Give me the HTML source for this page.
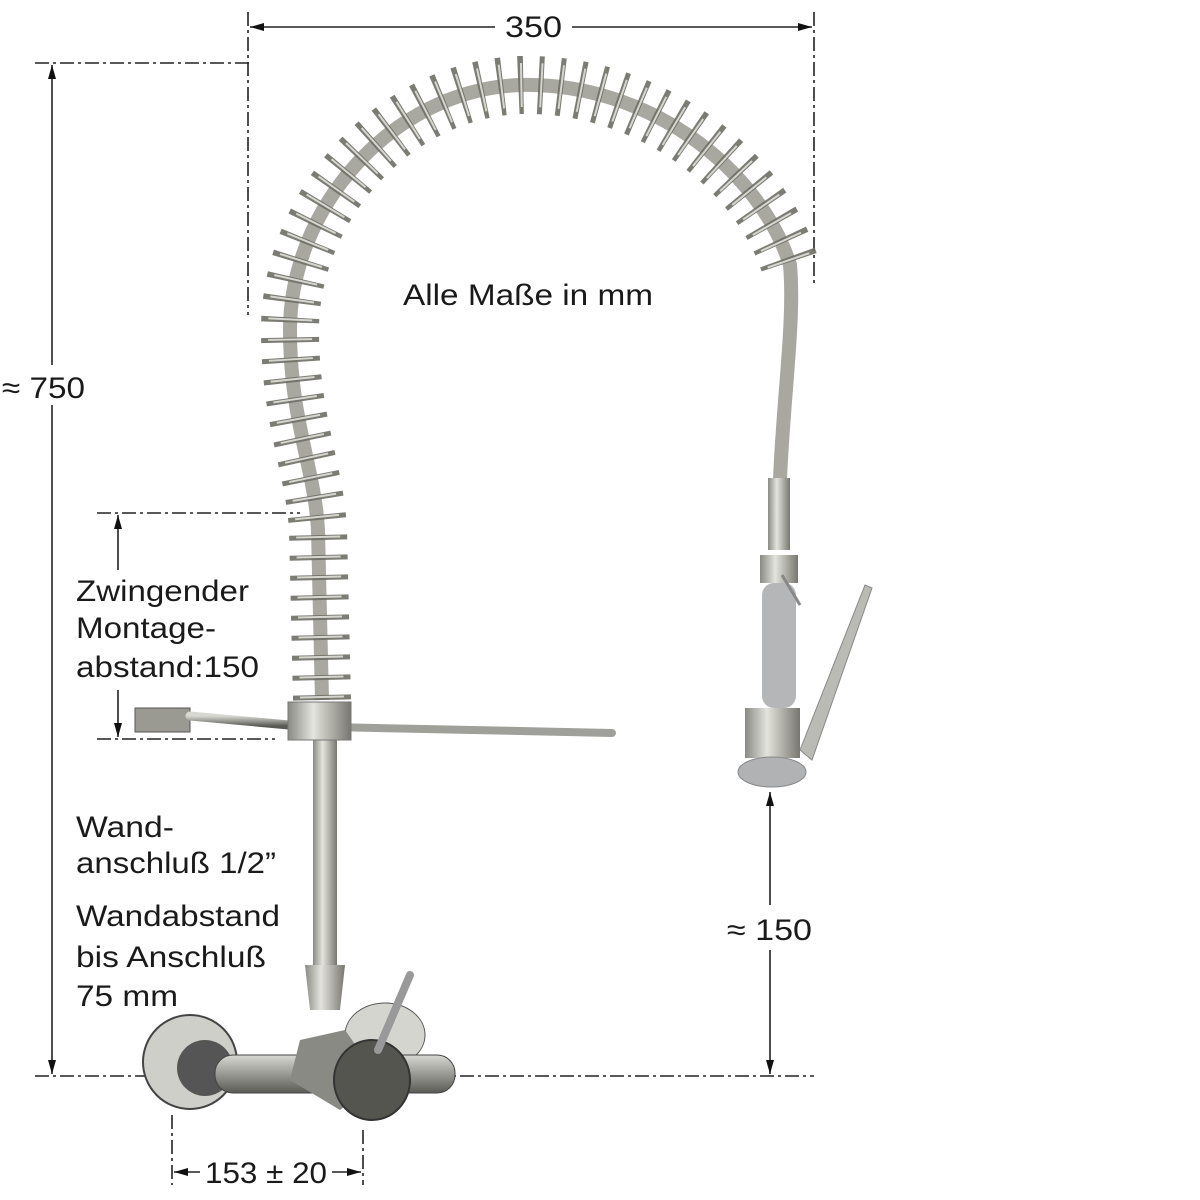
<!DOCTYPE html>
<html><head><meta charset="utf-8"><style>
html,body{margin:0;padding:0;background:#fff}
svg{display:block}
text{font-family:"Liberation Sans",Arial,sans-serif;fill:#1a1a1a}
</style></head><body>
<svg width="1200" height="1200" viewBox="0 0 1200 1200" xmlns="http://www.w3.org/2000/svg">
<defs>
<linearGradient id="steel" x1="0" x2="1" y1="0" y2="0">
<stop offset="0" stop-color="#8a8a84"/><stop offset="0.4" stop-color="#e4e4de"/><stop offset="1" stop-color="#77776f"/>
</linearGradient>
<linearGradient id="steelv" x1="0" x2="0" y1="0" y2="1">
<stop offset="0" stop-color="#d8d8d2"/><stop offset="0.5" stop-color="#9a9a94"/><stop offset="1" stop-color="#5a5a55"/>
</linearGradient>
<marker id="ar" markerWidth="14" markerHeight="8" refX="14" refY="4" orient="auto" markerUnits="userSpaceOnUse">
<path d="M0,0 L14,4 L0,8 Z" fill="#111"/></marker>
</defs>

<g stroke="#222" stroke-width="1.6" fill="none">
<line x1="248" y1="12" x2="248" y2="315" stroke-dasharray="14 4 3 4"/>
<line x1="814" y1="12" x2="814" y2="285" stroke-dasharray="14 4 3 4"/>
<line x1="35" y1="63" x2="252" y2="63" stroke-dasharray="14 4 3 4"/>
<line x1="35" y1="1076" x2="814" y2="1076" stroke-dasharray="14 4 3 4"/>
<line x1="97" y1="513" x2="300" y2="513" stroke-dasharray="14 4 3 4"/>
<line x1="97" y1="739" x2="275" y2="739" stroke-dasharray="14 4 3 4"/>
<line x1="172" y1="1115" x2="172" y2="1185" stroke-dasharray="14 4 3 4"/>
<line x1="363" y1="1130" x2="363" y2="1185" stroke-dasharray="14 4 3 4"/>
<line x1="495" y1="27" x2="250" y2="27" marker-end="url(#ar)"/>
<line x1="572" y1="27" x2="812" y2="27" marker-end="url(#ar)"/>
<line x1="52" y1="365" x2="52" y2="65" marker-end="url(#ar)"/>
<line x1="52" y1="405" x2="52" y2="1074" marker-end="url(#ar)"/>
<line x1="118" y1="570" x2="118" y2="515" marker-end="url(#ar)"/>
<line x1="118" y1="690" x2="118" y2="737" marker-end="url(#ar)"/>
<line x1="770" y1="905" x2="770" y2="792" marker-end="url(#ar)"/>
<line x1="770" y1="950" x2="770" y2="1074" marker-end="url(#ar)"/>
<line x1="200" y1="1172" x2="174" y2="1172" marker-end="url(#ar)"/>
<line x1="332" y1="1172" x2="361" y2="1172" marker-end="url(#ar)"/>
</g>

<path d="M322,700 L318,530 C315,470 290,420 290,330 C290,210 390,90 520,85 C650,82 760,170 790,265 C795,320 783,400 780,480" fill="none" stroke="#a8a8a0" stroke-width="14"/>
<path d="M322,700 L318,530 C315,470 290,420 290,330 C290,210 390,90 520,85 C650,82 760,170 790,265" fill="none" stroke="#6e6e66" stroke-width="58" stroke-dasharray="5 15" stroke-opacity="0.9"/>
<path d="M322,700 L318,530 C315,470 290,420 290,330 C290,210 390,90 520,85 C650,82 760,170 790,265" fill="none" stroke="#d6d6d0" stroke-width="44" stroke-dasharray="2 18" stroke-dashoffset="-2"/>

<rect x="135" y="708" width="55" height="24" fill="#9a9a92" stroke="#555"/>
<line x1="190" y1="716" x2="300" y2="726" stroke="url(#steelv)" stroke-width="9" stroke-linecap="round"/>
<line x1="330" y1="727" x2="612" y2="733" stroke="#a0a09a" stroke-width="8" stroke-linecap="round"/>
<rect x="313" y="735" width="24" height="230" fill="url(#steel)"/>
<rect x="288" y="702" width="63" height="38" fill="url(#steel)" stroke="#777"/>
<path d="M305,965 L345,965 L340,1010 L310,1010 Z" fill="url(#steel)"/>

<ellipse cx="190" cy="1062" rx="47" ry="47" fill="#cfcfca" stroke="#444" stroke-width="2"/>
<ellipse cx="205" cy="1068" rx="28" ry="28" fill="#555"/>
<ellipse cx="385" cy="1035" rx="40" ry="32" fill="#d5d5d0" stroke="#555"/>
<rect x="215" y="1055" width="240" height="38" rx="18" fill="url(#steelv)" stroke="#444"/>
<path d="M300,1040 L345,1030 L380,1080 L340,1110 L290,1080 Z" fill="#8a8a85"/>
<ellipse cx="372" cy="1080" rx="38" ry="40" fill="#55554f" stroke="#333" stroke-width="2"/>
<line x1="410" y1="975" x2="378" y2="1050" stroke="#999" stroke-width="8" stroke-linecap="round"/>

<rect x="768" y="478" width="22" height="72" fill="url(#steel)"/>
<rect x="760" y="555" width="38" height="28" fill="url(#steel)"/>
<rect x="762" y="583" width="34" height="125" rx="12" fill="#b4b6b8"/>
<rect x="745" y="708" width="55" height="50" fill="url(#steel)"/>
<ellipse cx="772" cy="772" rx="34" ry="15" fill="#b0b2b4" stroke="#888"/>
<path d="M800,750 L865,585 L872,588 L812,760 Z" fill="#bbbbb5" stroke="#888"/>
<line x1="782" y1="575" x2="800" y2="605" stroke="#888" stroke-width="3"/>

<g font-size="30" lengthAdjust="spacingAndGlyphs">
<text x="505" y="37" textLength="57" lengthAdjust="spacingAndGlyphs">350</text>
<text x="2" y="398" textLength="83" lengthAdjust="spacingAndGlyphs">≈ 750</text>
<text x="403" y="305" textLength="250" lengthAdjust="spacingAndGlyphs">Alle Maße in mm</text>
<text x="76" y="601" textLength="173" lengthAdjust="spacingAndGlyphs">Zwingender</text>
<text x="76" y="638" textLength="140" lengthAdjust="spacingAndGlyphs">Montage-</text>
<text x="76" y="677" textLength="183" lengthAdjust="spacingAndGlyphs">abstand:150</text>
<text x="76" y="837" textLength="98" lengthAdjust="spacingAndGlyphs">Wand-</text>
<text x="76" y="873" textLength="200" lengthAdjust="spacingAndGlyphs">anschluß 1/2”</text>
<text x="76" y="926" textLength="204" lengthAdjust="spacingAndGlyphs">Wandabstand</text>
<text x="76" y="967" textLength="190" lengthAdjust="spacingAndGlyphs">bis Anschluß</text>
<text x="76" y="1006" textLength="102" lengthAdjust="spacingAndGlyphs">75 mm</text>
<text x="727" y="940" textLength="85" lengthAdjust="spacingAndGlyphs">≈ 150</text>
<text x="205" y="1183" textLength="122" lengthAdjust="spacingAndGlyphs">153 ± 20</text>
</g>
</svg>
</body></html>
